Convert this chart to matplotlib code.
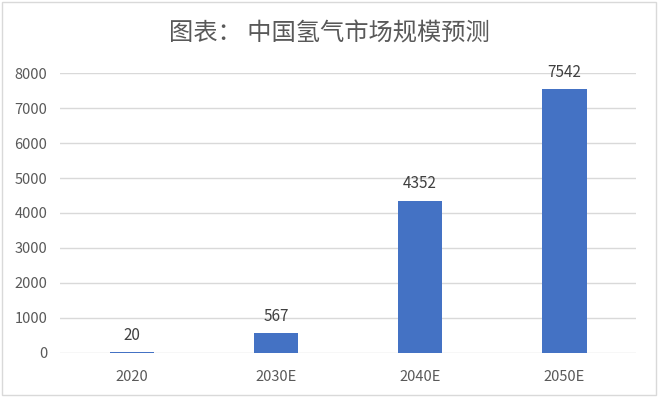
import matplotlib.pyplot as plt

plt.rcParams['font.family'] = ['Noto Sans CJK SC', 'DejaVu Sans']

categories = ['2020', '2030E', '2040E', '2050E']
values = [20, 567, 4352, 7542]
yticks = [0, 1000, 2000, 3000, 4000, 5000, 6000, 7000, 8000]

fig = plt.figure(figsize=(6.58, 3.97), dpi=100)
ax = fig.add_axes([0.091, 0.111, 0.876, 0.705])

x = range(len(categories))
bars = ax.bar(x, values, width=0.31, color='#4472C4', zorder=3)
for b, v in zip(bars, values):
    ax.annotate(str(v), (b.get_x() + b.get_width() / 2, v), xytext=(0, 6),
                textcoords='offset points', ha='center', va='bottom',
                fontsize=11, color='#404040')

ax.set_xlim(-0.5, 3.5)
ax.set_ylim(0, 8000)
ax.set_yticks(yticks)
ax.set_xticks(list(x))
ax.set_xticklabels(categories)
ax.yaxis.grid(True, color='#D9D9D9', linewidth=1, zorder=0)
for s in ax.spines.values():
    s.set_visible(False)
ax.tick_params(axis='both', length=0, colors='#595959', labelsize=10.5)
ax.tick_params(axis='x', pad=12)
ax.tick_params(axis='y', pad=9)

fig.text(0.5, 0.915, '图表： 中国氢气市场规模预测', ha='center', va='center',
         fontsize=17.5, color='#595959')

fig.patches.append(plt.Rectangle((0.003, 0.005), 0.994, 0.99, transform=fig.transFigure,
                                 fill=False, edgecolor='#D9D9D9', linewidth=1))

fig.savefig('out.png', dpi=100)
